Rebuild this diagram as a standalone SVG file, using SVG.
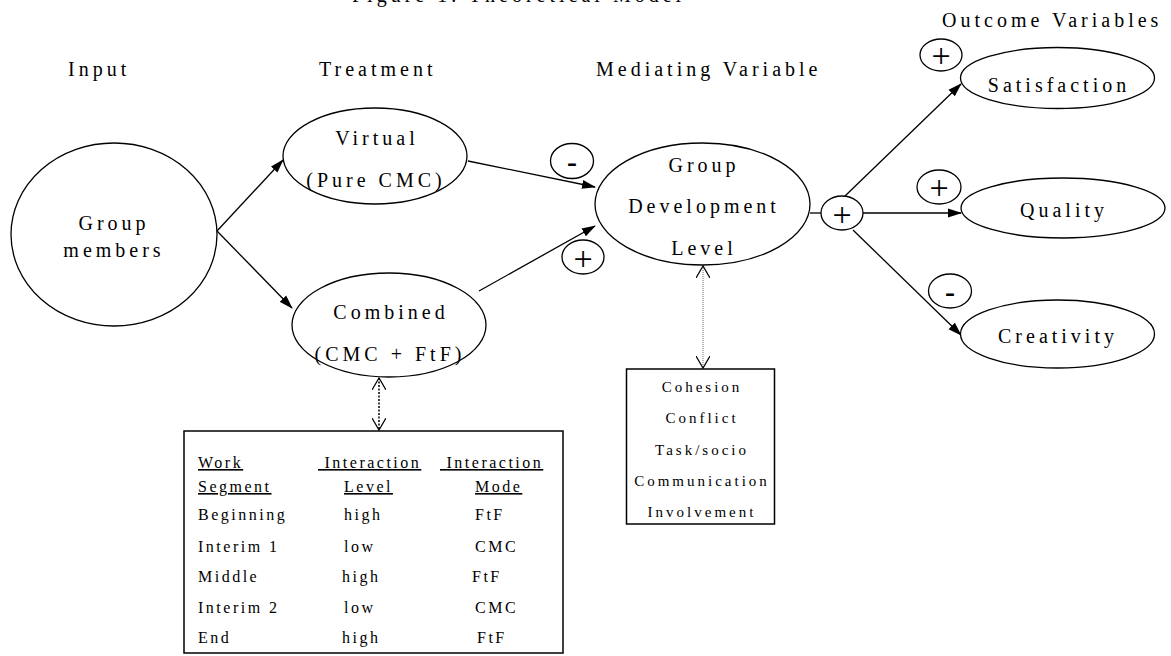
<svg xmlns="http://www.w3.org/2000/svg" width="1171" height="656" viewBox="0 0 1171 656">
<style>
text{font-family:"Liberation Serif","Times New Roman",serif;fill:#000}
.h{font-size:20px;letter-spacing:4px}
.n{font-size:20px;letter-spacing:4px;text-anchor:middle}
.p{font-size:34px;text-anchor:middle}
.m{font-size:30px;font-weight:bold;text-anchor:middle}
.t{font-size:16px;letter-spacing:2.5px}
.u{font-size:16px;letter-spacing:2.5px;text-decoration:underline}
.b{font-size:15px;letter-spacing:3px;text-anchor:middle}
.o{fill:#fff;stroke:#000;stroke-width:1.3}
.c{stroke:#000;stroke-width:1.3;fill:none}
</style>
<defs>
<marker id="ah" markerWidth="14" markerHeight="10" refX="13" refY="5" orient="auto" markerUnits="userSpaceOnUse"><path d="M0,0.5 L14,5 L0,9.5 z" fill="#000"/></marker>
<marker id="ov" markerWidth="14" markerHeight="14" refX="12" refY="7" orient="auto" markerUnits="userSpaceOnUse"><path d="M0,0 L12,7 L0,14" fill="none" stroke="#000" stroke-width="1.2"/></marker>
<marker id="ovs" markerWidth="14" markerHeight="14" refX="12" refY="7" orient="auto-start-reverse" markerUnits="userSpaceOnUse"><path d="M0,0 L12,7 L0,14" fill="none" stroke="#000" stroke-width="1.2"/></marker>
</defs>
<text class="h" x="352" y="1.5">Figure 1. Theoretical Model</text>
<g id="headers">
<text class="h" x="68" y="76">Input</text>
<text class="h" x="319" y="76">Treatment</text>
<text class="h" x="596" y="76">Mediating Variable</text>
<text class="h" x="942" y="27">Outcome Variables</text>
</g>
<g id="connectors">
<line class="c" x1="217" y1="231" x2="283" y2="160" marker-end="url(#ah)"/>
<line class="c" x1="217" y1="231" x2="292" y2="308" marker-end="url(#ah)"/>
<line class="c" x1="468" y1="161" x2="595" y2="187" marker-end="url(#ah)"/>
<line class="c" x1="479" y1="291" x2="595" y2="226" marker-end="url(#ah)"/>
<line class="c" x1="810" y1="213" x2="821" y2="213"/>
<line class="c" x1="845" y1="196" x2="961" y2="84" marker-end="url(#ah)"/>
<line class="c" x1="863" y1="213" x2="961" y2="213" marker-end="url(#ah)"/>
<line class="c" x1="853" y1="230" x2="961" y2="335" marker-end="url(#ah)"/>
<line x1="703" y1="266" x2="703" y2="368" stroke="#888" stroke-width="1.2" stroke-dasharray="1,1" marker-start="url(#ovs)" marker-end="url(#ov)"/>
<line x1="379" y1="378" x2="379" y2="430" stroke="#000" stroke-width="1.5" stroke-dasharray="2,1.5" marker-start="url(#ovs)" marker-end="url(#ov)"/>
</g>
<g id="group-members">
<ellipse class="o" cx="114" cy="234.5" rx="103" ry="91.5"/>
<text class="n" x="114" y="230">Group</text>
<text class="n" x="114" y="257">members</text>
</g>
<g id="virtual">
<ellipse class="o" cx="375" cy="156" rx="92" ry="48"/>
<text class="n" x="377" y="145">Virtual</text>
<text class="n" x="376" y="187">(Pure CMC)</text>
</g>
<g id="combined">
<ellipse class="o" cx="389" cy="325" rx="97" ry="52"/>
<text class="n" x="391" y="319">Combined</text>
<text class="n" x="390" y="361">(CMC + FtF)</text>
</g>
<g id="gdl">
<ellipse class="o" cx="702.5" cy="204" rx="107.5" ry="61"/>
<text class="n" x="704" y="172">Group</text>
<text class="n" x="704" y="213">Development</text>
<text class="n" x="704" y="255">Level</text>
</g>
<g id="hub">
<ellipse class="o" cx="842" cy="213" rx="21" ry="17"/>
<text class="p" x="842" y="226">+</text>
</g>
<g id="satisfaction">
<ellipse class="o" cx="1057.5" cy="78" rx="97" ry="30.5"/>
<text class="n" x="1059" y="92">Satisfaction</text>
</g>
<g id="quality">
<ellipse class="o" cx="1063" cy="208" rx="102" ry="30"/>
<text class="n" x="1064" y="217">Quality</text>
</g>
<g id="creativity">
<ellipse class="o" cx="1057.5" cy="334" rx="97" ry="34"/>
<text class="n" x="1058" y="343">Creativity</text>
</g>
<g id="sign-virtual">
<ellipse class="o" cx="572" cy="161" rx="21.5" ry="17.5"/>
<text class="m" x="572" y="172">-</text>
</g>
<g id="sign-combined">
<ellipse class="o" cx="583" cy="257" rx="21" ry="17"/>
<text class="p" x="583" y="270">+</text>
</g>
<g id="sign-satisfaction">
<ellipse class="o" cx="941" cy="55" rx="21" ry="16"/>
<text class="p" x="941" y="67">+</text>
</g>
<g id="sign-quality">
<ellipse class="o" cx="939" cy="187" rx="22" ry="17"/>
<text class="p" x="939" y="199">+</text>
</g>
<g id="sign-creativity">
<ellipse class="o" cx="950" cy="291" rx="21.5" ry="17"/>
<text class="m" x="950" y="302">-</text>
</g>
<g id="mediators-box">
<rect x="626.5" y="369" width="148" height="155" fill="#fff" stroke="#000" stroke-width="1.5"/>
<text class="b" x="702" y="392">Cohesion</text>
<text class="b" x="702" y="423">Conflict</text>
<text class="b" x="702" y="455">Task/socio</text>
<text class="b" x="702" y="486">Communication</text>
<text class="b" x="702" y="517">Involvement</text>
</g>
<g id="schedule-table">
<rect x="184" y="431" width="379" height="222" fill="#fff" stroke="#000" stroke-width="1.5"/>
<text class="u" x="198" y="468">Work</text>
<text class="u" x="318" y="468">&#160;Interaction</text>
<text class="u" x="440" y="468">&#160;Interaction</text>
<text class="u" x="198" y="492">Segment</text>
<text class="u" x="344" y="492">Level</text>
<text class="u" x="475" y="492">Mode</text>
<text class="t" x="198" y="520">Beginning</text>
<text class="t" x="344" y="520">high</text>
<text class="t" x="475" y="520">FtF</text>
<text class="t" x="198" y="552">Interim 1</text>
<text class="t" x="344" y="552">low</text>
<text class="t" x="475" y="552">CMC</text>
<text class="t" x="198" y="582">Middle</text>
<text class="t" x="342" y="582">high</text>
<text class="t" x="472" y="582">FtF</text>
<text class="t" x="198" y="613">Interim 2</text>
<text class="t" x="344" y="613">low</text>
<text class="t" x="475" y="613">CMC</text>
<text class="t" x="198" y="643">End</text>
<text class="t" x="342" y="643">high</text>
<text class="t" x="477" y="643">FtF</text>
</g>
</svg>
